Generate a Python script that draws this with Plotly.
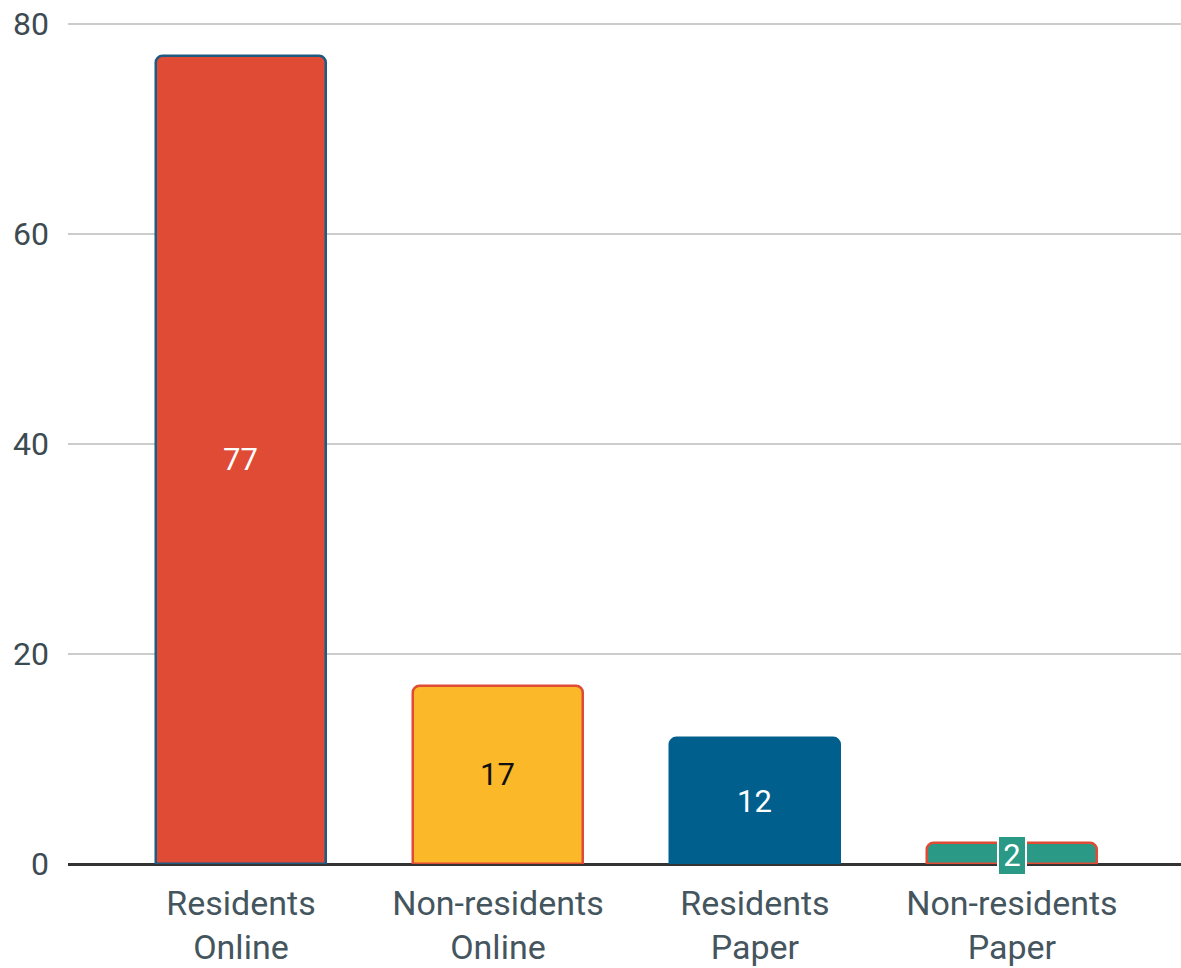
import plotly.graph_objects as go

categories = ["Residents<br>Online", "Non-residents<br>Online", "Residents<br>Paper", "Non-residents<br>Paper"]
values = [77, 17, 12, 2]
fill_colors = ["#E04B36", "#FBB829", "#005F8C", "#2A9A87"]
line_colors = ["#1F5A80", "#E04B36", "#005F8C", "#E04B36"]
label_colors = ["#FFFFFF", "#111111", "#FFFFFF", "#FFFFFF"]
y_ticks = [0, 20, 40, 60, 80]

fig = go.Figure()
fig.add_trace(go.Bar(
    x=list(range(len(categories))),
    y=values,
    width=0.662,
    marker=dict(color=fill_colors, line=dict(color=line_colors, width=2.5), cornerradius=7),
    hoverinfo="skip",
))

for i, v in enumerate(values):
    small = v < 5
    fig.add_annotation(
        x=i, y=v / 2, text=str(v), showarrow=False,
        font=dict(family="Roboto", size=31, color=label_colors[i]),
        bgcolor=fill_colors[i] if small else None,
        bordercolor="#FFFFFF" if small else None,
        borderwidth=2 if small else 0,
        borderpad=0,
        width=26 if small else None,
        yshift=-2 if small else 0,
    )

fig.update_layout(
    width=1181, height=968,
    margin=dict(l=68, r=0, t=0, b=104),
    plot_bgcolor="white", paper_bgcolor="white",
    showlegend=False,
    font=dict(family="Roboto", color="#3C4A52"),
    bargap=0,
)
fig.update_xaxes(
    range=[-0.673, 3.658],
    tickvals=list(range(len(categories))), ticktext=categories,
    tickfont=dict(size=34, color="#45555E"),
    showgrid=False, zeroline=False, showline=False, ticks="",
    ticklabelstandoff=16,
)
fig.update_yaxes(
    range=[0, 82.29],
    tickvals=y_ticks,
    tickfont=dict(size=32, color="#3C4A52"),
    showgrid=True, gridcolor="#CCCCCC", gridwidth=2,
    zeroline=True, zerolinecolor="#333333", zerolinewidth=2.5,
    ticks="", ticklabelstandoff=18,
)
fig.write_html("out.html")
